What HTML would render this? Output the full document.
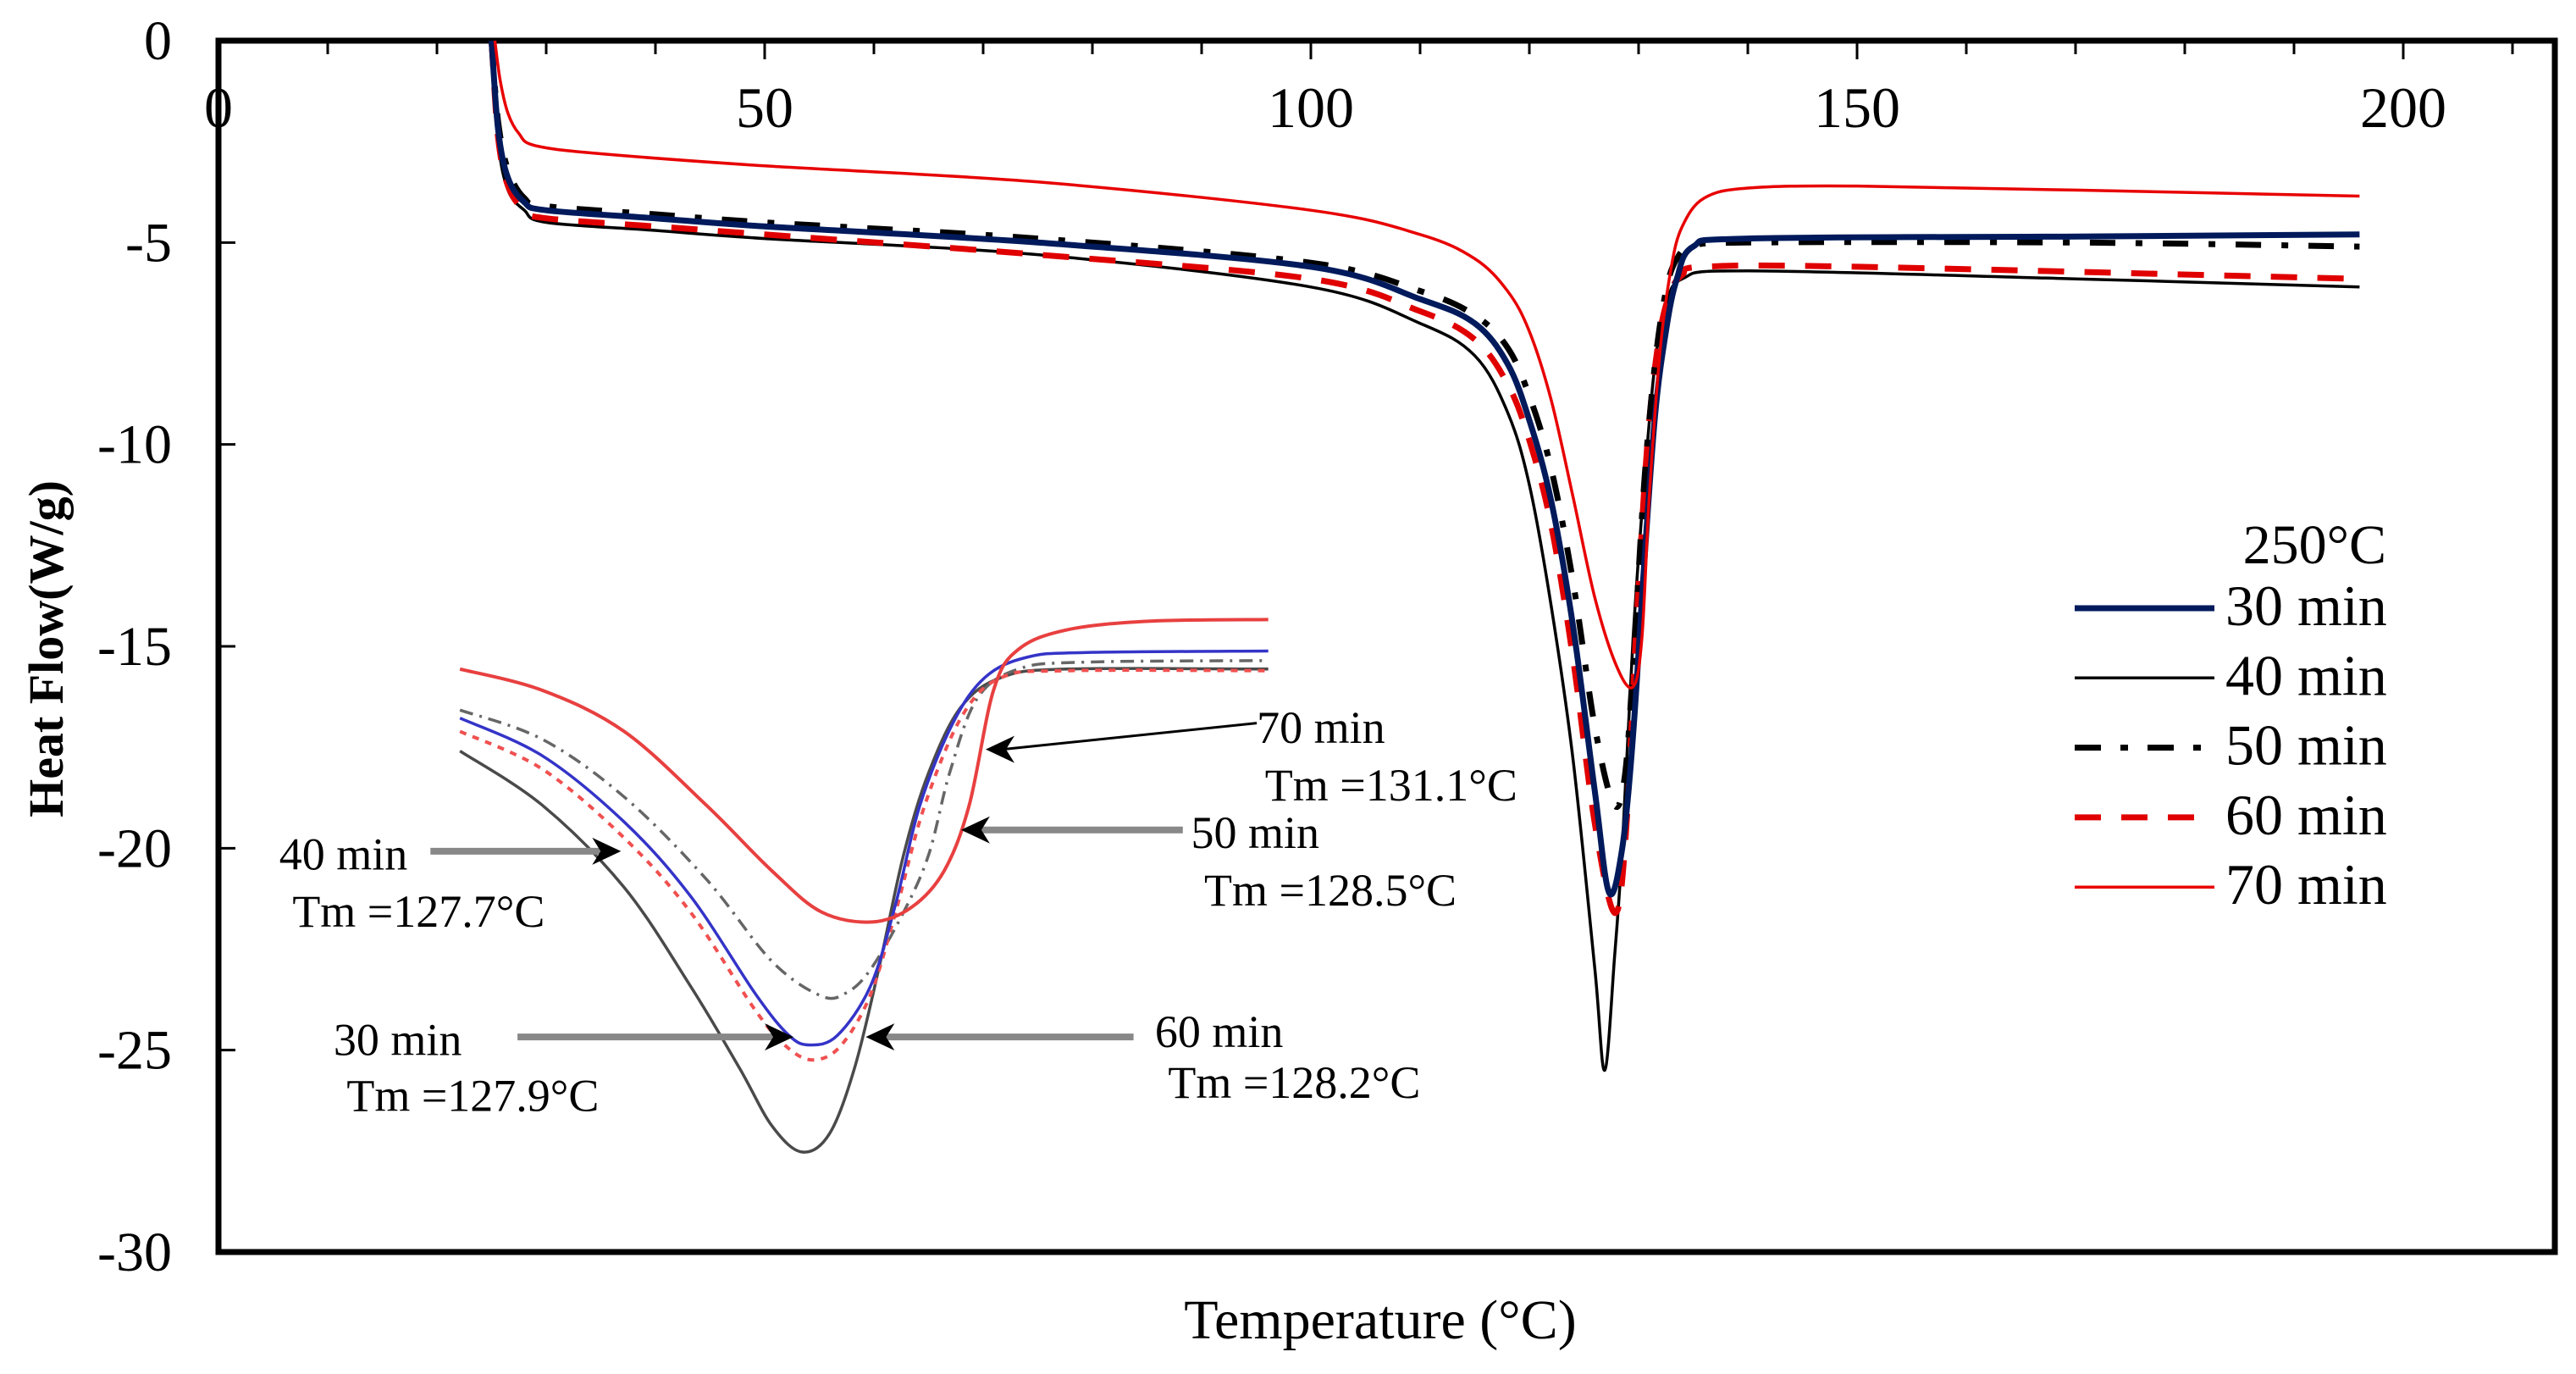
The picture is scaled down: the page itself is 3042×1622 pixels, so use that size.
<!DOCTYPE html>
<html><head><meta charset="utf-8"><style>
html,body{margin:0;padding:0;background:#fff}
svg{display:block}
text{font-family:"Liberation Serif",serif;fill:#000}
</style></head><body>
<svg id="chart" width="3042" height="1622" viewBox="0 0 3042 1622" xmlns="http://www.w3.org/2000/svg">
<defs><clipPath id="plotclip"><rect x="258" y="48" width="2759" height="1430"/></clipPath></defs>
<g id="axes"></g>
<g id="series" clip-path="url(#plotclip)"></g>
<g id="inset"></g>
<g id="legend"></g>
</svg>
<script>
// ---- main chart data ----
const xTicks = [0, 50, 100, 150, 200];
const yTicks = [0, -5, -10, -15, -20, -25, -30];
const seriesNames = ["30 min", "40 min", "50 min", "60 min", "70 min"];
const t30 = [25,25.6,26.5,28,30,40,50,75,100,110,115,118,120,122,124,126,127.3,128.5,129.5,130.5,131.5,132.5,133.5,135,140,170,196];
const h30 = [0,-2.2,-3.4,-4.0,-4.2,-4.4,-4.6,-5.0,-5.6,-6.4,-7.0,-8.0,-9.4,-11.4,-14.5,-18.6,-21.1,-20.0,-17.2,-13.0,-9.3,-7.2,-5.9,-5.1,-4.9,-4.85,-4.8];
const t40 = [25,25.6,26.5,28,30,40,50,75,100,110,115,118,120,122,124,126,126.9,127.8,128.5,129.5,130.5,131.5,132.5,134,140,170,196];
const h40 = [0,-2.5,-3.7,-4.2,-4.5,-4.7,-4.9,-5.3,-6.1,-7.0,-7.8,-9.2,-11.0,-14.0,-17.8,-23.0,-25.5,-22.7,-20.0,-14.8,-11.0,-8.0,-6.6,-5.9,-5.7,-5.9,-6.1];
const t50 = [25,25.6,26.5,28,30,40,50,75,100,110,115,118,120,122,124,126,127.7,128.7,129.5,130.5,131.5,132.5,133.5,135,140,170,196];
const h50 = [0,-2.0,-3.2,-3.9,-4.1,-4.3,-4.5,-4.9,-5.5,-6.2,-6.8,-7.6,-8.8,-10.6,-13.4,-17.0,-18.9,-18.3,-15.5,-11.0,-8.0,-6.2,-5.4,-5.1,-5.0,-5.0,-5.1];
const t60 = [25,25.6,26.5,28,30,40,50,75,100,110,115,118,120,122,124,126,127.8,128.8,129.8,130.8,131.8,132.8,134,136,150,196];
const h60 = [0,-2.4,-3.6,-4.2,-4.4,-4.6,-4.8,-5.3,-5.9,-6.7,-7.4,-8.5,-9.9,-12.0,-15.3,-19.4,-21.6,-19.8,-14.5,-10.0,-7.5,-6.3,-5.8,-5.6,-5.6,-5.9];
const t70 = [25.3,25.8,26.5,27.5,29,35,50,75,100,110,115,118,120,122,124,126,128,129.5,130.3,131,132,133,134,136,140,150,170,196];
const h70 = [0,-1.0,-1.8,-2.3,-2.6,-2.8,-3.1,-3.5,-4.2,-4.8,-5.4,-6.2,-7.2,-8.9,-11.3,-13.8,-15.5,-16.0,-14.8,-11.2,-7.6,-5.6,-4.6,-3.9,-3.65,-3.6,-3.7,-3.85];
// ---- inset data (relative units: u across 0-100, depth d downward) ----
const insetU70 = [0,10.2,20.3,30.5,38.6,44.7,51,55.9,59.9,63,66,69.1,75.2,85.4,100];
const insetD70 = [9.3,13.3,21,34.9,47.2,54.9,56.8,54,47.2,34.9,13.3,5.6,1.9,0.3,0];
const insetU30 = [0,10.2,20.3,28.5,36.6,40.7,43.3,46.7,50.8,53.9,56.9,61,65,70.1,77.2,100];
const insetD30 = [18.5,25.6,38,51.9,70.4,78.1,79.9,78.1,68.8,53.4,34.9,19.4,10.8,7.1,6.2,5.9];
const insetU40 = [0,10.2,20.3,28.5,34.6,38.6,42.3,45.7,48.8,51.8,54.9,58,62,67.1,75.2,100];
const insetD40 = [24.7,34.9,50.3,68.8,84.3,95.1,100,96.6,84.3,65.7,44.1,28.7,16.4,10.8,9.3,9.3];
const insetU50 = [0,10.2,20.3,30.5,38.6,44.7,47.8,50.8,54.9,58,60.6,64,69.1,77.2,100];
const insetD50 = [17,22.5,33.3,48.8,64.2,70.7,70.1,65.7,54.9,44.1,28.7,14.8,9.3,8,7.7];
const insetU60 = [0,10.2,20.3,28.5,36.6,40.7,43.9,47.2,50.8,53.9,57.5,62.2,67.1,75.2,100];
const insetD60 = [21,28.1,41,54.9,73.5,80.6,82.7,79.9,70.4,54.9,34.9,17.9,10.8,9.6,9.6];

const NS = "http://www.w3.org/2000/svg";
const X0 = 258, X1 = 3017, Y0 = 48, Y1 = 1478;
const xs = v => X0 + v * 12.9;
const ys = v => Y0 + (-v) * (Y1 - Y0) / 30;
const iu = u => (280 + u * 4.92) * 1.94;
const id = d => (377 + d * 3.24) * 1.94;

function mk(tag, attrs, parent) {
  const e = document.createElementNS(NS, tag);
  for (const k in attrs) e.setAttribute(k, attrs[k]);
  parent.appendChild(e);
  return e;
}
function smooth(pts) {
  let d = "M" + pts[0][0].toFixed(1) + "," + pts[0][1].toFixed(1);
  for (let i = 0; i < pts.length - 1; i++) {
    const p0 = pts[i - 1] || pts[i], p1 = pts[i], p2 = pts[i + 1], p3 = pts[i + 2] || p2;
    const c1 = [p1[0] + (p2[0] - p0[0]) / 6, p1[1] + (p2[1] - p0[1]) / 6];
    const c2 = [p2[0] - (p3[0] - p1[0]) / 6, p2[1] - (p3[1] - p1[1]) / 6];
    d += "C" + c1.map(v=>v.toFixed(1)).join(",") + " " + c2.map(v=>v.toFixed(1)).join(",") + " " + p2[0].toFixed(1) + "," + p2[1].toFixed(1);
  }
  return d;
}
const axes = document.getElementById("axes");
const series = document.getElementById("series");
const inset = document.getElementById("inset");
const legend = document.getElementById("legend");

for (let v = 10; v < 214; v += 10) {
  const t = mk("line", {x1: xs(v), x2: xs(v), y1: Y0, y2: Y0 + (v % 50 === 0 ? 22 : 16), stroke: "#000", "stroke-width": 3}, axes);
  
  
}
xTicks.forEach(v => {
  const t = mk("text", {x: xs(v), y: 150, "font-size": 68, "text-anchor": "middle"}, axes);
  t.textContent = v;
  
  
});
yTicks.forEach(v => {
  if (v !== 0 && v !== -30) {
    const tk = mk("line", {x1: X0, x2: X0 + 20, y1: ys(v), y2: ys(v), stroke: "#000", "stroke-width": 3}, axes);
    
    
  }
  const t = mk("text", {x: 203, y: ys(v) + 22, "font-size": 66, "text-anchor": "end"}, axes);
  t.textContent = v;
  
  
});
const frame = mk("rect", {x: X0, y: Y0, width: X1 - X0, height: Y1 - Y0, fill: "none", stroke: "#000", "stroke-width": 7}, axes);


const yt = mk("text", {x: 0, y: 0, "font-size": 58, "font-weight": "bold", "text-anchor": "middle", transform: "translate(74,766) rotate(-90)"}, axes);
yt.textContent = "Heat Flow(W/g)";


const xt = mk("text", {x: 1630, y: 1580, "font-size": 66, "text-anchor": "middle"}, axes);
xt.textContent = "Temperature (°C)";



const styles = [
  {t: t40, h: h40, c: "#000", w: 3.5, dash: "", name: "series-40-min"},
  {t: t60, h: h60, c: "#e00000", w: 7, dash: "31 24", name: "series-60-min"},
  {t: t50, h: h50, c: "#000", w: 7, dash: "30 24 8 24", name: "series-50-min"},
  {t: t30, h: h30, c: "#001a5c", w: 7, dash: "", name: "series-30-min"},
  {t: t70, h: h70, c: "#e80000", w: 3.5, dash: "", name: "series-70-min"}
];
styles.forEach(s => {
  const pts = s.t.map((v, i) => [xs(v), ys(s.h[i])]);
  const p = mk("path", {d: smooth(pts), fill: "none", stroke: s.c, "stroke-width": s.w, "stroke-dasharray": s.dash, "stroke-linejoin": "round"}, series);
  
  
});

const insetStyles = [
  {u: insetU40, d: insetD40, c: "#4a4a4a", w: 3.5, dash: "", name: "inset-curve-40-min"},
  {u: insetU50, d: insetD50, c: "#666", w: 3.5, dash: "16 8 3 8", name: "inset-curve-50-min"},
  {u: insetU60, d: insetD60, c: "#f05050", w: 4, dash: "8 8", name: "inset-curve-60-min"},
  {u: insetU30, d: insetD30, c: "#3434c8", w: 3.5, dash: "", name: "inset-curve-30-min"},
  {u: insetU70, d: insetD70, c: "#e84040", w: 4, dash: "", name: "inset-curve-70-min"}
];
insetStyles.forEach(s => {
  const pts = s.u.map((v, i) => [iu(v), id(s.d[i])]);
  const p = mk("path", {d: smooth(pts), fill: "none", stroke: s.c, "stroke-width": s.w, "stroke-dasharray": s.dash}, inset);
  
  
});

const notes = [
  ["70 min", "Tm =131.1°C", 765, 440, 600, 456, 765, 452, 770, 487, "#000", 3],
  ["50 min", "Tm =128.5°C", 720, 505, 585, 505, 725, 516, 733, 551, "#888", 8],
  ["40 min", "Tm =127.7°C", 262, 518, 378, 518, 170, 529, 178, 564, "#888", 8],
  ["30 min", "Tm =127.9°C", 315, 631, 483, 631, 203, 642, 211, 676, "#888", 8],
  ["60 min", "Tm =128.2°C", 690, 631, 527, 631, 703, 637, 711, 668, "#888", 8]
];
notes.forEach(n => {
  const k = 1.94;
  const a = mk("line", {x1: n[2]*k, y1: n[3]*k, x2: n[4]*k - (n[4] > n[2] ? 20 : -20), y2: n[5]*k, stroke: n[10], "stroke-width": n[11]}, inset);
  
  
  const dir = n[4] > n[2] ? 1 : -1;
  const hx = n[4]*k, hy = n[5]*k;
  const head = mk("path", {d: `M${hx},${hy} L${hx-dir*34},${hy-16} L${hx-dir*24},${hy} L${hx-dir*34},${hy+16} Z`, fill: "#000"}, inset);
  
  
  const t1 = mk("text", {x: n[6]*k, y: n[7]*k, "font-size": 54}, inset);
  t1.textContent = n[0];
  
  
  const t2 = mk("text", {x: n[8]*k, y: n[9]*k, "font-size": 54}, inset);
  t2.textContent = n[1];
  
  
});

const lt = mk("text", {x: 2818, y: 665, "font-size": 66, "text-anchor": "end"}, legend);
lt.textContent = "250°C";


const legStyles = [
  {c: "#001a5c", w: 7, dash: ""}, {c: "#000", w: 3.5, dash: ""}, {c: "#000", w: 7, dash: "31 23 9 23"},
  {c: "#e00000", w: 7, dash: "31 24"}, {c: "#e80000", w: 3.5, dash: ""}
];
seriesNames.forEach((nm, i) => {
  const y = 718 + i * 82.3;
  const l = mk("line", {x1: 2450, x2: 2615, y1: y, y2: y, stroke: legStyles[i].c, "stroke-width": legStyles[i].w, "stroke-dasharray": legStyles[i].dash}, legend);
  
  
  const t = mk("text", {x: 2628, y: y + 20, "font-size": 68}, legend);
  t.textContent = nm;
  
  
});
</script>
</body></html>
